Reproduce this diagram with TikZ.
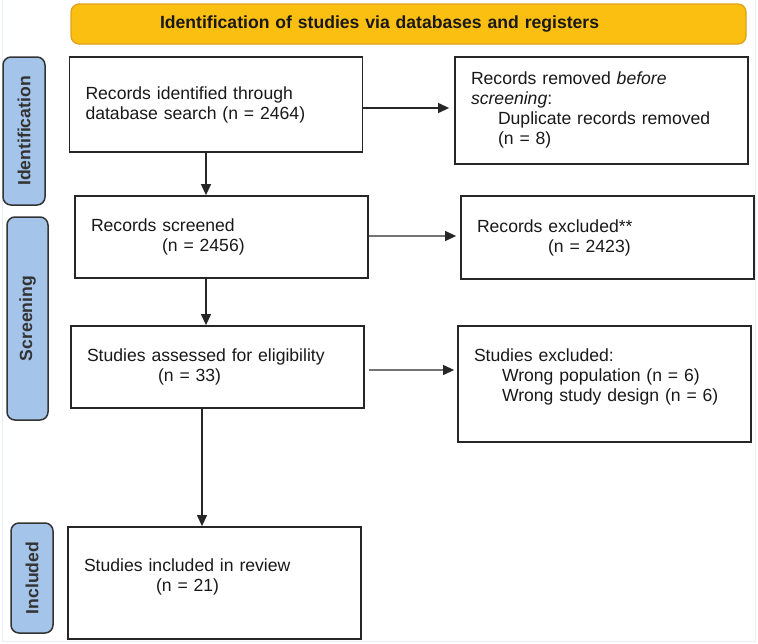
\documentclass[tikz,border=0pt]{standalone}
\usepackage{fontspec}
\setmainfont{Liberation Sans}
\usetikzlibrary{arrows.meta}

\definecolor{bannergold}{HTML}{FBBF12}
\definecolor{bannerrim}{HTML}{DDA21A}
\definecolor{stageblue}{HTML}{A4C5E9}
\definecolor{framefaint}{HTML}{E9EEF7}
\newcommand{\prismafont}{\fontsize{17.6pt}{20pt}\selectfont}

\tikzset{
    box/.style={draw=black!85, line width=1.8pt, fill=white, text=black!90,
        text width=261pt, inner xsep=16pt, inner ysep=0pt, align=left,
        font=\prismafont},
    stage/.style={draw=black!80, line width=1.5pt, fill=stageblue,
        rounded corners=8pt, rotate=90, font=\prismafont\bfseries, text=black!80},
    arr/.style={-{Triangle[length=11pt, width=10pt, color=black!85]},
        line width=1.2pt, draw=black!85},
}

\begin{document}
\begin{tikzpicture}[x=1pt, y=-1pt]
    \useasboundingbox (0, 0) rectangle (758, 643);

    % ===== Faint frame =====
    \draw[framefaint, line width=1pt] (2.5, 0) -- (2.5, 641) -- (755.5, 641) -- (755.5, 0);

    % ===== Banner =====
    \node[draw=bannerrim, line width=1.2pt, fill=bannergold, rounded corners=8pt,
        minimum height=40pt, text width=497pt, inner xsep=89pt, align=left,
        font=\prismafont\bfseries, text=black!90] (banner) at (408.5, 24)
        {Identification of studies via databases and registers};

    % ===== Stage bars =====
    \node[stage, minimum width=148pt, minimum height=42pt] (stageident) at (24, 131) {Identification};
    \node[stage, minimum width=203pt, minimum height=41pt] (stagescreen) at (27.5, 318.5) {Screening};
    \node[stage, minimum width=110pt, minimum height=42pt] (stageincl) at (32, 578) {Included};

    % ===== Main column =====
    \node[box, minimum height=95pt] (ident) at (216, 104.5)
        {Records identified through\\database search (n = 2464)};
    \node[box, minimum height=82pt] (screened) at (221.5, 237)
        {Records screened\\\hspace*{71pt}(n = 2456)};
    \node[box, minimum height=82pt] (assessed) at (217.5, 367)
        {Studies assessed for eligibility\\\hspace*{71pt}(n = 33)};
    \node[box, minimum height=112pt] (included) at (214.5, 583)
        {Studies included in review\\\hspace*{72pt}(n = 21)\rule[-16pt]{0pt}{0pt}};

    % ===== Exclusion column =====
    \node[box, minimum height=107pt] (removed) at (601.5, 110.5)
        {Records removed \emph{before}\\\emph{screening}:\\
        \hspace*{27pt}Duplicate records removed\\\hspace*{27pt}(n = 8)\rule[-5pt]{0pt}{0pt}};
    \node[box, minimum height=83pt] (excluded) at (607.5, 237.5)
        {Records excluded**\\\hspace*{71pt}(n = 2423)};
    \node[box, minimum height=116pt] (studyexcl) at (604.5, 384)
        {Studies excluded:\\\hspace*{28pt}Wrong population (n = 6)\\
        \hspace*{28pt}Wrong study design (n = 6)\rule[-18pt]{0pt}{0pt}};

    % ===== Downward arrows =====
    \draw[arr] ([xshift=-10pt]ident.south) -- ([xshift=-10pt]ident.south |- screened.north);
    \draw[arr] ([xshift=-15.5pt]screened.south) -- ([xshift=-15.5pt]screened.south |- assessed.north);
    \draw[arr] ([xshift=-15.5pt]assessed.south) -- ([xshift=-15.5pt]assessed.south |- included.north);

    % ===== Sideways arrows =====
    \coordinate (identout) at ([yshift=-3.5pt]ident.east);
    \draw[arr, shorten >=5pt] (identout) -- (identout -| removed.west);
    \coordinate (screenout) at ([yshift=1pt]screened.east);
    \draw[arr, draw=black!55, shorten >=4pt] (screenout) -- (screenout -| excluded.west);
    \coordinate (assessout) at ([yshift=-3pt]assessed.east);
    \draw[arr, draw=black!55, shorten <=4pt, shorten >=3pt] (assessout) -- (assessout -| studyexcl.west);

\end{tikzpicture}
\end{document}
